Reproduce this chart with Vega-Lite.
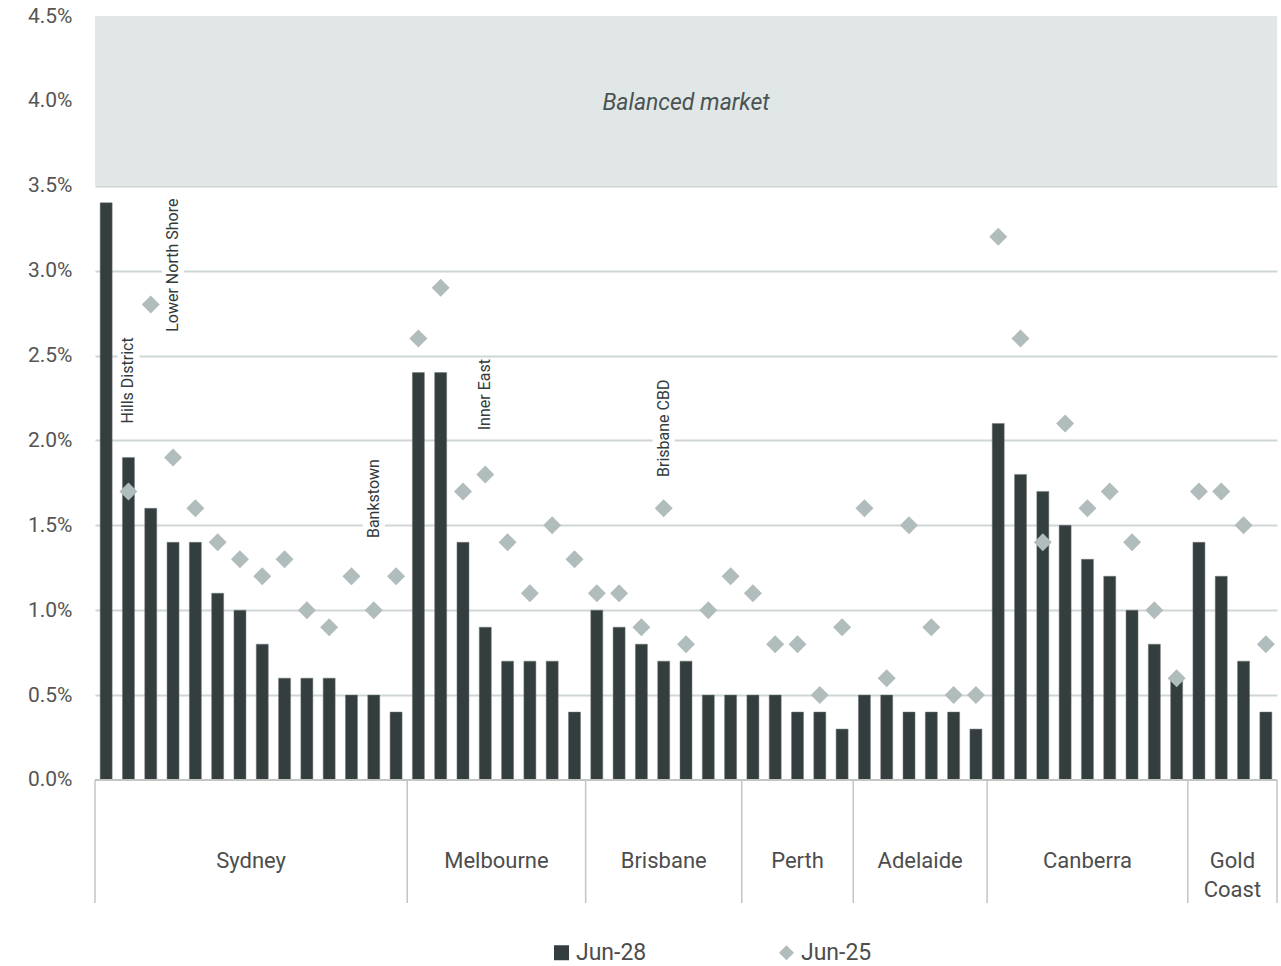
{
  "$schema": "https://vega.github.io/schema/vega-lite/v6.json",
  "width": 1182,
  "height": 887,
  "autosize": {"type": "none"},
  "padding": {"left": 95, "top": 16, "right": 4, "bottom": 63},
  "background": "#ffffff",
  "config": {
    "view": {"stroke": null},
    "font": "Roboto",
    "text": {"font": "Roboto"}
  },
  "datasets": {
    "markets": [
      {"n": 1, "city": "Sydney", "name": "Sydney 1", "jun28": 3.4, "jun25": null},
      {"n": 2, "city": "Sydney", "name": "Hills District", "jun28": 1.9, "jun25": 1.7},
      {"n": 3, "city": "Sydney", "name": "Sydney 3", "jun28": 1.6, "jun25": 2.8},
      {"n": 4, "city": "Sydney", "name": "Lower North Shore", "jun28": 1.4, "jun25": 1.9},
      {"n": 5, "city": "Sydney", "name": "Sydney 5", "jun28": 1.4, "jun25": 1.6},
      {"n": 6, "city": "Sydney", "name": "Sydney 6", "jun28": 1.1, "jun25": 1.4},
      {"n": 7, "city": "Sydney", "name": "Sydney 7", "jun28": 1.0, "jun25": 1.3},
      {"n": 8, "city": "Sydney", "name": "Sydney 8", "jun28": 0.8, "jun25": 1.2},
      {"n": 9, "city": "Sydney", "name": "Sydney 9", "jun28": 0.6, "jun25": 1.3},
      {"n": 10, "city": "Sydney", "name": "Sydney 10", "jun28": 0.6, "jun25": 1.0},
      {"n": 11, "city": "Sydney", "name": "Sydney 11", "jun28": 0.6, "jun25": 0.9},
      {"n": 12, "city": "Sydney", "name": "Sydney 12", "jun28": 0.5, "jun25": 1.2},
      {"n": 13, "city": "Sydney", "name": "Bankstown", "jun28": 0.5, "jun25": 1.0},
      {"n": 14, "city": "Sydney", "name": "Sydney 14", "jun28": 0.4, "jun25": 1.2},
      {"n": 15, "city": "Melbourne", "name": "Melbourne 1", "jun28": 2.4, "jun25": 2.6},
      {"n": 16, "city": "Melbourne", "name": "Melbourne 2", "jun28": 2.4, "jun25": 2.9},
      {"n": 17, "city": "Melbourne", "name": "Melbourne 3", "jun28": 1.4, "jun25": 1.7},
      {"n": 18, "city": "Melbourne", "name": "Inner East", "jun28": 0.9, "jun25": 1.8},
      {"n": 19, "city": "Melbourne", "name": "Melbourne 5", "jun28": 0.7, "jun25": 1.4},
      {"n": 20, "city": "Melbourne", "name": "Melbourne 6", "jun28": 0.7, "jun25": 1.1},
      {"n": 21, "city": "Melbourne", "name": "Melbourne 7", "jun28": 0.7, "jun25": 1.5},
      {"n": 22, "city": "Melbourne", "name": "Melbourne 8", "jun28": 0.4, "jun25": 1.3},
      {"n": 23, "city": "Brisbane", "name": "Brisbane 1", "jun28": 1.0, "jun25": 1.1},
      {"n": 24, "city": "Brisbane", "name": "Brisbane 2", "jun28": 0.9, "jun25": 1.1},
      {"n": 25, "city": "Brisbane", "name": "Brisbane 3", "jun28": 0.8, "jun25": 0.9},
      {"n": 26, "city": "Brisbane", "name": "Brisbane CBD", "jun28": 0.7, "jun25": 1.6},
      {"n": 27, "city": "Brisbane", "name": "Brisbane 5", "jun28": 0.7, "jun25": 0.8},
      {"n": 28, "city": "Brisbane", "name": "Brisbane 6", "jun28": 0.5, "jun25": 1.0},
      {"n": 29, "city": "Brisbane", "name": "Brisbane 7", "jun28": 0.5, "jun25": 1.2},
      {"n": 30, "city": "Perth", "name": "Perth 1", "jun28": 0.5, "jun25": 1.1},
      {"n": 31, "city": "Perth", "name": "Perth 2", "jun28": 0.5, "jun25": 0.8},
      {"n": 32, "city": "Perth", "name": "Perth 3", "jun28": 0.4, "jun25": 0.8},
      {"n": 33, "city": "Perth", "name": "Perth 4", "jun28": 0.4, "jun25": 0.5},
      {"n": 34, "city": "Perth", "name": "Perth 5", "jun28": 0.3, "jun25": 0.9},
      {"n": 35, "city": "Adelaide", "name": "Adelaide 1", "jun28": 0.5, "jun25": 1.6},
      {"n": 36, "city": "Adelaide", "name": "Adelaide 2", "jun28": 0.5, "jun25": 0.6},
      {"n": 37, "city": "Adelaide", "name": "Adelaide 3", "jun28": 0.4, "jun25": 1.5},
      {"n": 38, "city": "Adelaide", "name": "Adelaide 4", "jun28": 0.4, "jun25": 0.9},
      {"n": 39, "city": "Adelaide", "name": "Adelaide 5", "jun28": 0.4, "jun25": 0.5},
      {"n": 40, "city": "Adelaide", "name": "Adelaide 6", "jun28": 0.3, "jun25": 0.5},
      {"n": 41, "city": "Canberra", "name": "Canberra 1", "jun28": 2.1, "jun25": 3.2},
      {"n": 42, "city": "Canberra", "name": "Canberra 2", "jun28": 1.8, "jun25": 2.6},
      {"n": 43, "city": "Canberra", "name": "Canberra 3", "jun28": 1.7, "jun25": 1.4},
      {"n": 44, "city": "Canberra", "name": "Canberra 4", "jun28": 1.5, "jun25": 2.1},
      {"n": 45, "city": "Canberra", "name": "Canberra 5", "jun28": 1.3, "jun25": 1.6},
      {"n": 46, "city": "Canberra", "name": "Canberra 6", "jun28": 1.2, "jun25": 1.7},
      {"n": 47, "city": "Canberra", "name": "Canberra 7", "jun28": 1.0, "jun25": 1.4},
      {"n": 48, "city": "Canberra", "name": "Canberra 8", "jun28": 0.8, "jun25": 1.0},
      {"n": 49, "city": "Canberra", "name": "Canberra 9", "jun28": 0.6, "jun25": 0.6},
      {"n": 50, "city": "Gold Coast", "name": "Gold Coast 1", "jun28": 1.4, "jun25": 1.7},
      {"n": 51, "city": "Gold Coast", "name": "Gold Coast 2", "jun28": 1.2, "jun25": 1.7},
      {"n": 52, "city": "Gold Coast", "name": "Gold Coast 3", "jun28": 0.7, "jun25": 1.5},
      {"n": 53, "city": "Gold Coast", "name": "Gold Coast 4", "jun28": 0.4, "jun25": 0.8}
    ],
    "edges": [
      {"edge": 0.5}, {"edge": 14.5}, {"edge": 22.5}, {"edge": 29.5},
      {"edge": 34.5}, {"edge": 40.5}, {"edge": 49.5}, {"edge": 53.5}
    ],
    "cities": [
      {"city": "Sydney", "mid": 7.5},
      {"city": "Melbourne", "mid": 18.5},
      {"city": "Brisbane", "mid": 26},
      {"city": "Perth", "mid": 32},
      {"city": "Adelaide", "mid": 37.5},
      {"city": "Canberra", "mid": 45},
      {"city": "Gold\nCoast", "mid": 51.5}
    ],
    "labels": [
      {"n": 2, "label": "Hills District", "ystart": 2.1, "b0": 2.08, "b1": 2.66},
      {"n": 4, "label": "Lower North Shore", "ystart": 2.64, "b0": 2.62, "b1": 3.48},
      {"n": 13, "label": "Bankstown", "ystart": 1.425, "b0": 1.4, "b1": 1.93},
      {"n": 18, "label": "Inner East", "ystart": 2.06, "b0": 2.04, "b1": 2.48},
      {"n": 26, "label": "Brisbane CBD", "ystart": 1.785, "b0": 1.76, "b1": 2.41}
    ],
    "zone": [
      {"label": "Balanced market", "from": 3.5, "to": 4.5, "mid": 27, "ymid": 3.985}
    ]
  },
  "encoding": {
    "x": {"type": "quantitative", "scale": {"domain": [0.5, 53.5], "nice": false, "zero": false, "padding": 0}, "axis": null},
    "y": {"type": "quantitative", "scale": {"domain": [-0.7245, 4.5], "nice": false, "zero": false, "padding": 0}}
  },
  "layer": [
    {
      "data": {"name": "zone"},
      "mark": {"type": "rect", "color": "#e1e6e6"},
      "encoding": {
        "y": {
          "field": "from", "type": "quantitative",
          "axis": {
            "title": null,
            "values": [0, 0.5, 1, 1.5, 2, 2.5, 3, 3.5, 4, 4.5],
            "labelExpr": "format(datum.value, '.1f') + '%'",
            "labelFontSize": 21,
            "labelColor": "#555555",
            "labelFont": "Roboto",
            "labelPadding": 23,
            "ticks": false,
            "domain": false,
            "grid": true,
            "gridColor": "#d0d6d6",
            "gridWidth": 2,
            "gridOpacity": {"condition": {"test": "datum.value >= 4 || datum.value == 0", "value": 0}, "value": 1}
          }
        },
        "y2": {"field": "to"}
      }
    },
    {
      "data": {"name": "zone"},
      "mark": {"type": "text", "fontSize": 23, "fontStyle": "italic", "color": "#4a5353", "align": "center", "baseline": "middle"},
      "encoding": {
        "x": {"field": "mid", "type": "quantitative"},
        "y": {"field": "ymid", "type": "quantitative"},
        "text": {"field": "label"}
      }
    },
    {
      "data": {"name": "markets"},
      "mark": {"type": "bar", "width": 12, "stroke": "#6f7878", "strokeWidth": 0.5},
      "encoding": {
        "x": {"field": "n", "type": "quantitative"},
        "y": {"field": "jun28", "type": "quantitative"},
        "color": {"datum": "Jun-28", "type": "nominal",
          "scale": {"domain": ["Jun-28", "Jun-25"], "range": ["#343e3f", "#b1bcbc"]},
          "legend": {
            "orient": "none",
            "legendX": 455,
            "legendY": 925,
            "direction": "horizontal",
            "title": null,
            "symbolSize": 225,
            "symbolStrokeWidth": 0,
            "labelFontSize": 23,
            "labelFont": "Roboto",
            "labelColor": "#4d4d4d",
            "labelOffset": 3,
            "columnPadding": 128
          }
        }
      }
    },
    {
      "data": {"name": "labels"},
      "mark": {"type": "bar", "width": 22, "color": "#ffffff"},
      "encoding": {
        "x": {"field": "n", "type": "quantitative"},
        "y": {"field": "b0", "type": "quantitative"},
        "y2": {"field": "b1"}
      }
    },
    {
      "data": {"name": "labels"},
      "mark": {"type": "text", "angle": 270, "align": "left", "baseline": "middle", "fontSize": 16, "color": "#333b3b"},
      "encoding": {
        "x": {"field": "n", "type": "quantitative"},
        "y": {"field": "ystart", "type": "quantitative"},
        "text": {"field": "label"}
      }
    },
    {
      "data": {"name": "markets"},
      "mark": {"type": "point", "filled": true, "size": 324, "opacity": 1},
      "encoding": {
        "x": {"field": "n", "type": "quantitative"},
        "y": {"field": "jun25", "type": "quantitative"},
        "color": {"datum": "Jun-25", "type": "nominal"},
        "shape": {"datum": "Jun-25", "type": "nominal",
          "scale": {"domain": ["Jun-28", "Jun-25"], "range": ["square", "diamond"]},
          "legend": {
            "orient": "none",
            "legendX": 455,
            "legendY": 925,
            "direction": "horizontal",
            "title": null,
            "symbolSize": 225,
            "symbolStrokeWidth": 0,
            "labelFontSize": 23,
            "labelFont": "Roboto",
            "labelColor": "#4d4d4d",
            "labelOffset": 3,
            "columnPadding": 128
          }
        }
      }
    },
    {
      "data": {"name": "edges"},
      "mark": {"type": "rule", "color": "#c4c4c4", "strokeWidth": 1.5},
      "encoding": {
        "x": {"field": "edge", "type": "quantitative"},
        "y": {"datum": 0},
        "y2": {"datum": -0.7245}
      }
    },
    {
      "data": {"name": "zone"},
      "mark": {"type": "rule", "color": "#c4c4c4", "strokeWidth": 2},
      "encoding": {
        "y": {"datum": 0}
      }
    },
    {
      "data": {"name": "cities"},
      "mark": {"type": "text", "fontSize": 22, "color": "#4d4d4d", "align": "center", "baseline": "top", "lineBreak": "\n", "lineHeight": 29},
      "encoding": {
        "x": {"field": "mid", "type": "quantitative"},
        "y": {"datum": -0.417},
        "text": {"field": "city"}
      }
    }
  ]
}
